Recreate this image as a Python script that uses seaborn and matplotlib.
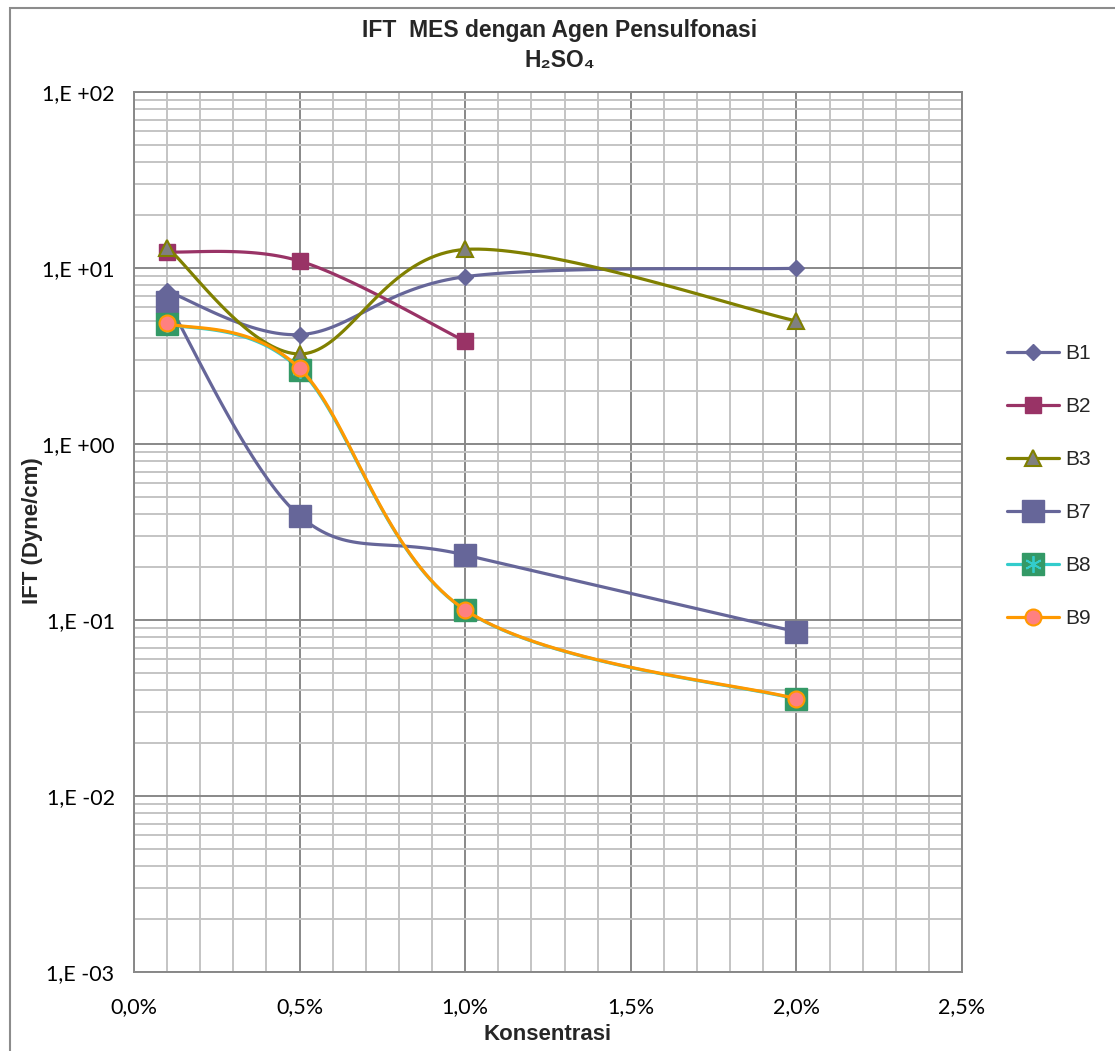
import numpy as np
import matplotlib
matplotlib.use("Agg")
import matplotlib.pyplot as plt
import seaborn as sns
from matplotlib.lines import Line2D
from matplotlib.patches import Rectangle
from matplotlib.ticker import MultipleLocator, LogLocator, FuncFormatter, NullFormatter

# Concentration (%) and IFT values (dyne/cm) per sample
konsentrasi = [0.1, 0.5, 1.0, 2.0]
konsentrasi_b2 = [0.1, 0.5, 1.0]
ift_b1 = [7.4, 4.2, 8.96, 10.0]
ift_b2 = [12.4, 11.0, 3.85]
ift_b3 = [13.1, 3.26, 12.8, 5.02]
ift_b7 = [6.46, 0.392, 0.235, 0.0861]
ift_b8 = [4.85, 2.66, 0.114, 0.0356]
ift_b9 = [4.87, 2.70, 0.1145, 0.0358]

x_ticks = [0.0, 0.5, 1.0, 1.5, 2.0, 2.5]
y_exponents = [2, 1, 0, -1, -2, -3]

sns.set_style("white")
plt.rcParams["font.family"] = ["Liberation Sans", "DejaVu Sans"]

W, H = 1115, 1051
fig = plt.figure(figsize=(W / 100, H / 100), dpi=100)
ax = fig.add_axes([134 / W, 1 - 972.3 / H, (962 - 134) / W, (972.3 - 92.3) / H])


def smooth_curve(xs, ys, n=40):
    """Bezier smoothing (Catmull-Rom style) of a series in (x, log y) space."""
    pts = np.column_stack([np.asarray(xs, float), np.log10(ys)])
    pts = np.vstack([pts[0], pts, pts[-1]])
    t = np.linspace(0, 1, n)[:, None]
    segs = []
    for i in range(1, len(pts) - 2):
        p0, p1, p2, p3 = pts[i - 1], pts[i], pts[i + 1], pts[i + 2]
        c1 = p1 + (p2 - p0) / 6
        c2 = p2 - (p3 - p1) / 6
        seg = (1 - t) ** 3 * p1 + 3 * (1 - t) ** 2 * t * c1 + 3 * (1 - t) * t ** 2 * c2 + t ** 3 * p2
        segs.append(seg if i == 1 else seg[1:])
    s = np.vstack(segs)
    return s[:, 0], 10 ** s[:, 1]


series = [
    ("B1", konsentrasi, ift_b1, "#666699", dict(marker="D", ms=8.5, mfc="#666699", mec="#666699", mew=1)),
    ("B2", konsentrasi_b2, ift_b2, "#993366", dict(marker="s", ms=11.5, mfc="#993366", mec="#993366", mew=1)),
    ("B3", konsentrasi, ift_b3, "#808000", dict(marker="^", ms=11, mfc="#808080", mec="#808000", mew=1.5)),
    ("B7", konsentrasi, ift_b7, "#666699", dict(marker="s", ms=16, mfc="#666699", mec="#666699", mew=1)),
    ("B8", konsentrasi, ift_b8, "#33cccc", dict(marker="s", ms=15.5, mfc="#339966", mec="#339966", mew=1)),
    ("B9", konsentrasi, ift_b9, "#ff9900", dict(marker="o", ms=11.5, mfc="#ff8080", mec="#ff9900", mew=1.5)),
]

handles = []
for name, xs, ys, color, mk in series:
    sx, sy = smooth_curve(xs, ys)
    sns.lineplot(x=sx, y=sy, ax=ax, color=color, lw=2.3, sort=False, estimator=None, zorder=3)
    ax.plot(xs, ys, linestyle="none", zorder=3, **mk)
    h = Line2D([], [], color=color, lw=2.3, **mk)
    if name == "B8":
        ax.plot(xs, ys, linestyle="none", marker=(6, 2, 0), ms=12, mec="#33cccc", mew=1.3, zorder=3)
        star = Line2D([], [], linestyle="none", marker=(6, 2, 0), ms=12, mec="#33cccc", mew=1.3)
        h = (h, star)
    handles.append(h)

ax.set_yscale("log")
ax.set_xlim(0, 2.5)
ax.set_ylim(1e-3, 1e2)

ax.xaxis.set_major_locator(MultipleLocator(0.5))
ax.xaxis.set_minor_locator(MultipleLocator(0.1))
ax.yaxis.set_major_locator(LogLocator(base=10, numticks=20))
ax.yaxis.set_minor_locator(LogLocator(base=10, subs=np.arange(2, 10), numticks=20))
ax.xaxis.set_major_formatter(FuncFormatter(lambda v, p: f"{v:.1f}%".replace(".", ",")))


def fmt_y(v, p):
    e = int(round(np.log10(v)))
    sign = "+" if e >= 0 else "-"
    return f"1,E {sign}{abs(e):02d}"


ax.yaxis.set_major_formatter(FuncFormatter(fmt_y))
ax.yaxis.set_minor_formatter(NullFormatter())

ax.grid(which="minor", color="#c4c4c4", lw=1.4, zorder=0)
ax.grid(which="major", color="#888888", lw=1.4, zorder=0)
ax.set_axisbelow(True)
for sp in ax.spines.values():
    sp.set_color("#888888")
    sp.set_linewidth(1.4)

ax.tick_params(which="major", direction="out", length=5, width=1.4, color="#888888",
               labelsize=15.5, labelcolor="black")
ax.tick_params(which="minor", length=0)
ax.tick_params(axis="x", pad=13)
ax.tick_params(axis="y", pad=9)
for lab in ax.get_xticklabels() + ax.get_yticklabels():
    lab.set_family(["Lato", "DejaVu Sans"])

ax.set_xlabel("")
ax.set_ylabel("")

fig.text(560 / W, 1 - 30 / H, "IFT  MES dengan Agen Pensulfonasi", ha="center", va="center",
         fontsize=16.5, fontweight="bold")
fig.text(560 / W, 1 - 61 / H, "H₂SO₄", ha="center", va="center", fontsize=16.5, fontweight="bold")
fig.text(548 / W, 1 - 1034 / H, "Konsentrasi", ha="center", va="center", fontsize=16, fontweight="bold")
fig.text(33 / W, 1 - 531 / H, "IFT (Dyne/cm)", ha="center", va="center", rotation=90,
         fontsize=16, fontweight="bold")

fig.legend(handles, [s[0] for s in series], loc="upper left",
           bbox_to_anchor=(1007 / W, 1 - 344 / H), frameon=False, fontsize=15,
           handlelength=2.5, handletextpad=0.3, labelspacing=1.63, borderpad=0, borderaxespad=0)

fig.add_artist(Rectangle((10 / W, -0.05), 1.1, 1 - 8.3 / H + 0.05, transform=fig.transFigure,
                         fill=False, edgecolor="#8c8c8c", lw=1.5))

fig.savefig("out.png", dpi=100)
